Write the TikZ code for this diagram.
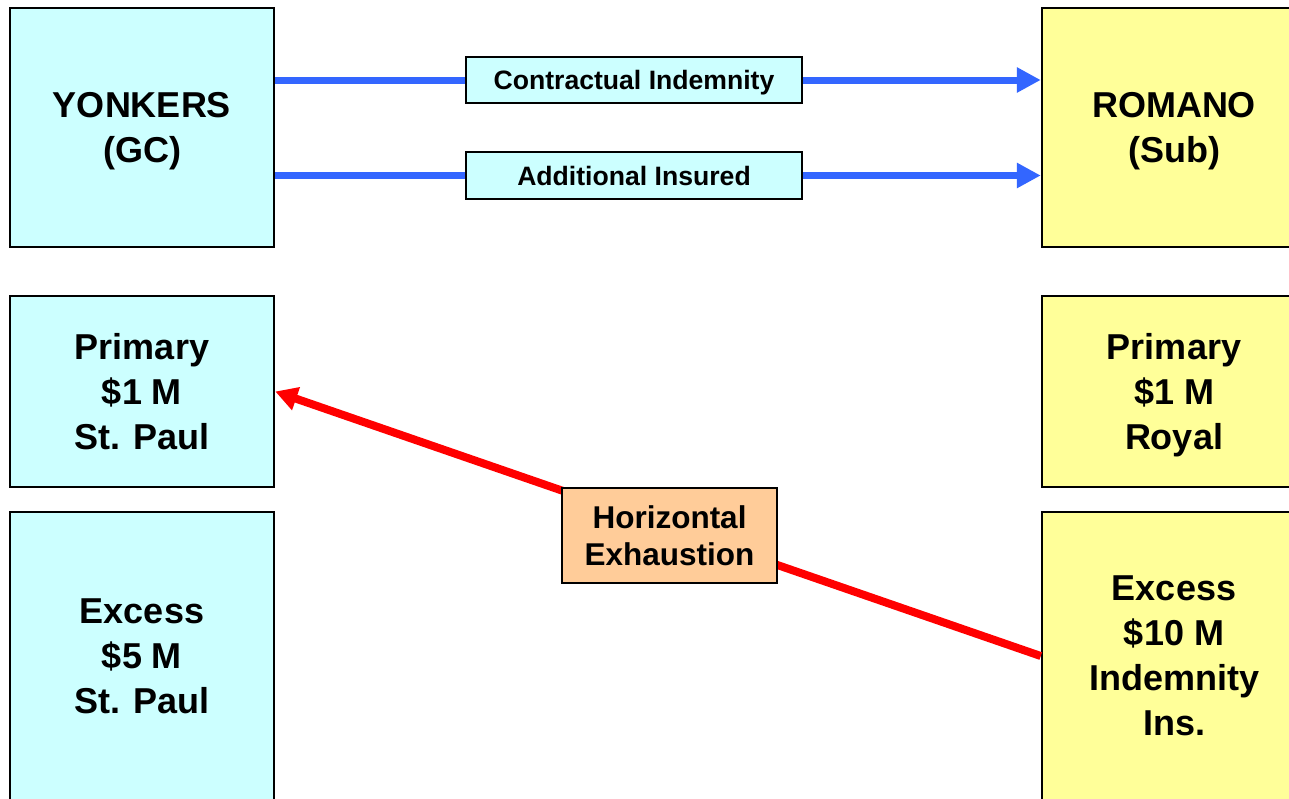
\documentclass[tikz,border=0pt]{standalone}
\usepackage{fontspec}
\setmainfont{Liberation Sans}
\usetikzlibrary{arrows.meta}
\definecolor{cyanbox}{HTML}{CCFFFF}
\definecolor{yellowbox}{HTML}{FFFF99}
\definecolor{peachbox}{HTML}{FFCC99}
\definecolor{arrowblue}{HTML}{3366FF}
\begin{document}
\begin{tikzpicture}[x=1pt,y=-1pt,
  party/.style={draw=black,line width=2.5pt,minimum width=264pt,align=center,inner sep=0pt,
    text depth=0pt,font=\fontsize{36}{45}\selectfont\bfseries},
  gcbox/.style={party,fill=cyanbox},
  subbox/.style={party,fill=yellowbox},
  labelbox/.style={draw=black,line width=2pt,fill=cyanbox,minimum width=336pt,inner sep=0pt,
    text height=19pt,text depth=-4pt,font=\fontsize{26.6}{30}\selectfont\bfseries},
  hexbox/.style={draw=black,line width=2pt,fill=peachbox,minimum width=215pt,minimum height=95pt,
    inner sep=0pt,align=center,text depth=0pt,font=\fontsize{31.5}{37}\selectfont\bfseries},
  bluelink/.style={draw=arrowblue,line width=7pt},
  bluearrow/.style={bluelink,-{Triangle[length=24pt,width=24pt]}},
  redarrow/.style={draw=red,line width=8pt,-{Triangle[length=22pt,width=23pt]}}
]
\useasboundingbox (0,0) rectangle (1289,798);
\fill[white] (0,0) rectangle (1289,798);

\node[gcbox,minimum height=239pt] (yon) at (142,127.5) {YONKERS\\(GC)};
\node[subbox,minimum height=239pt] (rom) at (1174,127.5) {ROMANO\\(Sub)};
\node[gcbox,minimum height=191pt] (pl) at (142,391.5) {Primary\\\$1 M\\St. Paul};
\node[gcbox,minimum height=288pt] (el) at (142,656) {Excess\\\$5 M\\St. Paul};
\node[subbox,minimum height=191pt] (pr) at (1174,391.5) {Primary\\\$1 M\\Royal};
\node[subbox,minimum height=288pt] (er) at (1174,656) {Excess\\\$10 M\\Indemnity\\Ins.};

\node[labelbox,minimum height=46pt] (ci) at (634,80) {Contractual Indemnity};
\node[labelbox,minimum height=47pt] (ai) at (634,175.5) {Additional Insured};

\draw[bluelink] (yon.east |- ci.west) -- (ci.west);
\draw[bluearrow] (ci.east) -- (rom.west |- ci.east);
\draw[bluelink] (yon.east |- ai.west) -- (ai.west);
\draw[bluearrow] (ai.east) -- (rom.west |- ai.east);

\draw[redarrow] (er.west) -- (pl.east);
\node[hexbox] (hex) at (669.5,535.5) {Horizontal\\Exhaustion};
\end{tikzpicture}
\end{document}
